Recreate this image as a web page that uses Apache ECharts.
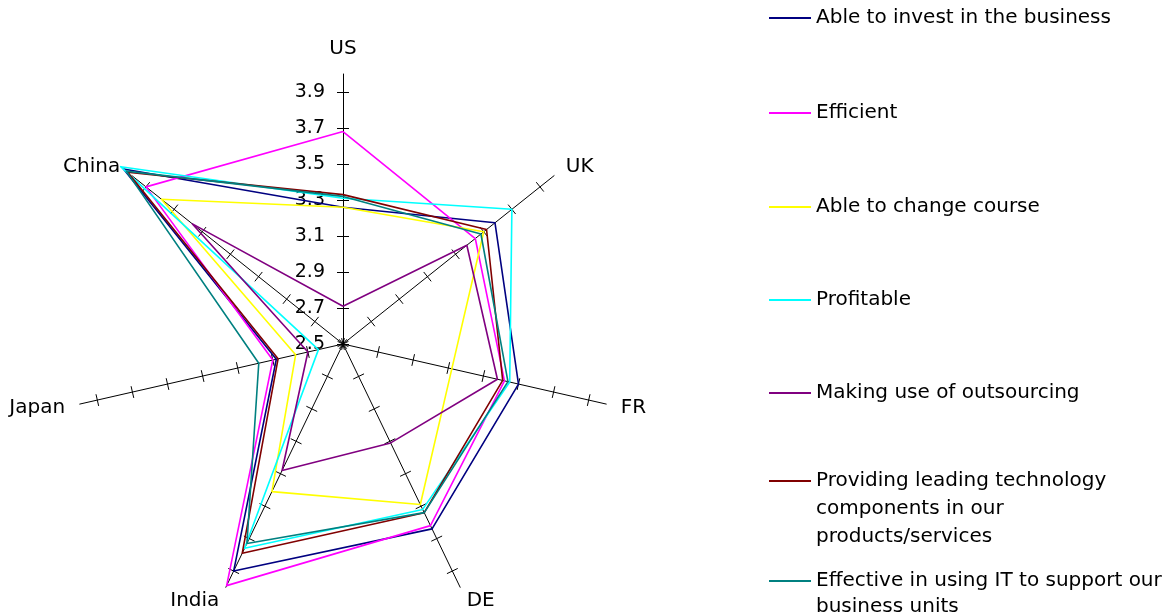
<!DOCTYPE html>
<html>
<head>
<meta charset="utf-8">
<script src="https://cdn.jsdelivr.net/npm/echarts@6/dist/echarts.min.js"></script>
<style>html,body{margin:0;padding:0;background:#fff}#c{width:1168px;height:615px}</style>
</head>
<body>
<div id="c"></div>
<script>
// Categories in natural (clockwise) order
const countries = ['US', 'UK', 'FR', 'DE', 'India', 'Japan', 'China'];
const seriesNames = [
  'Able to invest in the business',
  'Efficient',
  'Able to change course',
  'Profitable',
  'Making use of outsourcing',
  'Providing leading technology components in our products/services',
  'Effective in using IT to support our business units'
];
const legendLabels = [
  'Able to invest in the business',
  'Efficient',
  'Able to change course',
  'Profitable',
  'Making use of outsourcing',
  'Providing leading technology\ncomponents in our\nproducts/services',
  'Effective in using IT to support our\nbusiness units'
];
//                     US    UK    FR    DE    India Japan China
const investData    = [3.26, 3.58, 3.50, 3.64, 3.90, 2.88, 4.06];
const efficientData = [3.68, 3.44, 3.42, 3.62, 3.99, 2.90, 3.90];
const changeData    = [3.26, 3.50, 3.12, 3.49, 3.41, 2.77, 3.79];
const profitData    = [3.31, 3.70, 3.45, 3.52, 3.76, 2.64, 4.08];
const outsourceData = [2.71, 3.38, 3.38, 3.11, 3.28, 2.70, 3.57];
const techData      = [3.33, 3.52, 3.41, 3.54, 3.79, 2.87, 4.03];
const itData        = [3.32, 3.48, 3.44, 3.54, 3.73, 2.98, 4.04];
const tickLabels = ['2.5', '2.7', '2.9', '3.1', '3.3', '3.5', '3.7', '3.9'];
const axisMin = 2.5, axisMax = 4.0;

const colors = ['#000080', '#FF00FF', '#FFFF00', '#00FFFF', '#800080', '#800000', '#008080'];
const allData = [investData, efficientData, changeData, profitData, outsourceData, techData, itData];

// ECharts places radar indicators counter-clockwise; reorder to get the clockwise layout
const order = [0, 6, 5, 4, 3, 2, 1];
const font = 'DejaVu Sans';
const tickMax = parseFloat(tickLabels[tickLabels.length - 1]);
const tickCount = tickLabels.length - 1;
const R = 270;
const Rt = R * (tickMax - axisMin) / (axisMax - axisMin);

function indicators(max, withLabel) {
  return order.map(function (i, k) {
    const o = { name: countries[i], min: axisMin, max: max };
    if (withLabel && k === 0) o.axisLabel = { show: true };
    return o;
  });
}
const base = { center: [343, 344], startAngle: 90, shape: 'polygon',
  splitLine: { show: false }, splitArea: { show: false } };

// Legend text: pad with empty lines so the first line sits on the legend line
function legendText(i) {
  const lines = legendLabels[i].split('\n');
  const pad = new Array(lines.length).join('\n');
  return pad + legendLabels[i];
}

const chart = echarts.init(document.getElementById('c'), null, { renderer: 'canvas' });
const option = {
  animation: false,
  backgroundColor: '#fff',
  radar: [
    Object.assign({}, base, {
      radius: R, indicator: indicators(axisMax, false), splitNumber: 5,
      axisName: { show: true, color: '#000', fontFamily: font, fontSize: 20 },
      nameGap: 15,
      axisLine: { show: true, lineStyle: { color: '#000', width: 1 } },
      axisTick: { show: false }, axisLabel: { show: false }
    }),
    Object.assign({}, base, {
      radius: Rt, indicator: indicators(tickMax, true), splitNumber: tickCount,
      axisName: { show: false },
      axisLine: { show: false },
      axisTick: { show: true, length: 6, lineStyle: { color: '#000', width: 1 } },
      axisLabel: { show: false, color: '#000', fontFamily: font, fontSize: 19, margin: 18,
        formatter: function (v) { return Number(v).toFixed(1); } }
    }),
    Object.assign({}, base, {
      radius: Rt, indicator: indicators(tickMax, false), splitNumber: tickCount,
      axisName: { show: false },
      axisLine: { show: false },
      axisTick: { show: true, length: -6, lineStyle: { color: '#000', width: 1 } },
      axisLabel: { show: false }
    })
  ],
  legend: seriesNames.map(function (n, i) {
    const tops = [4, 99, 193, 286, 379, 411, 542];
    const lh = i === 6 ? 26 : 28;
    return {
      data: [{ name: n, icon: 'rect' }],
      left: 769, top: tops[i], orient: 'vertical', padding: 0,
      itemWidth: 42, itemHeight: 2, itemGap: 0, selectedMode: false,
      itemStyle: { borderWidth: 0 },
      formatter: function () { return legendText(i); },
      textStyle: { color: '#000', fontFamily: font, fontSize: 20, lineHeight: lh }
    };
  }),
  series: seriesNames.map(function (n, i) {
    return {
      type: 'radar', radarIndex: 0, name: n, symbol: 'none',
      lineStyle: { color: colors[i], width: 1.6 },
      itemStyle: { color: colors[i] },
      data: [{ name: n, value: order.map(function (j) { return allData[i][j]; }) }]
    };
  })
};
chart.setOption(option);
</script>
</body>
</html>
